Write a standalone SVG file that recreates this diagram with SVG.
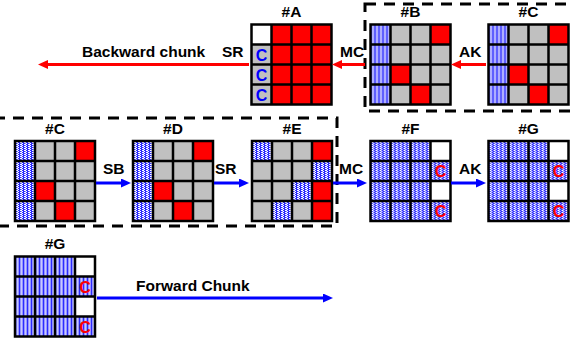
<svg xmlns="http://www.w3.org/2000/svg" xmlns:xlink="http://www.w3.org/1999/xlink" width="570" height="340" viewBox="0 0 570 340">
<style>
text{font-family:"Liberation Sans",Arial,sans-serif;font-weight:bold;font-size:15.5px;fill:#000}
.lbl{text-anchor:middle}
.g{fill:#c0c0c0}.r{fill:#ff0000}.w{fill:#fff}.b{fill:url(#dots)}
.cb{fill:#0000ff;text-anchor:middle;font-size:16px}
.cr{fill:#ff0000;text-anchor:middle;font-size:16px}
.grid{fill:none;stroke:#000;stroke-width:2.5}
.ar{stroke:#ff0000;stroke-width:3;fill:none;marker-end:url(#hr)}
.ab{stroke:#0000ff;stroke-width:3;fill:none;marker-end:url(#hb)}
.dash{fill:none;stroke:#000;stroke-width:3;stroke-dasharray:11 8}
</style>
<defs>
<pattern id="dots" patternUnits="userSpaceOnUse" width="4" height="2">
<rect width="4" height="2" fill="#fff"/>
<rect x="0" y="0" width="1" height="2" fill="#2a2aff"/>
<rect x="1" y="0" width="1" height="1" fill="#2a2aff"/>
<rect x="3" y="1" width="1" height="1" fill="#2a2aff"/>
<rect x="2" y="0" width="1" height="1" fill="#9090ff"/>
</pattern>
<path id="gl" class="grid" d="M0,0H80V80H0Z M20,0V80 M40,0V80 M60,0V80 M0,20H80 M0,40H80 M0,60H80"/>
<marker id="hr" markerUnits="userSpaceOnUse" markerWidth="10" markerHeight="10" refX="2" refY="4.5" orient="auto">
<path d="M0,0L10,4.5L0,9Z" fill="#ff0000"/>
</marker>
<marker id="hb" markerUnits="userSpaceOnUse" markerWidth="10" markerHeight="10" refX="2" refY="4.5" orient="auto">
<path d="M0,0L10,4.5L0,9Z" fill="#0000ff"/>
</marker>
</defs>
<rect width="570" height="340" fill="#fff"/>

<g id="boxes">
<rect class="dash" x="365" y="4" width="220" height="107"/>
<rect class="dash" x="-6" y="118" width="343" height="108"/>
</g>

<g id="A" transform="translate(251.5,24.5)">
<rect class="w" x="0" y="0" width="20" height="20"/><rect class="r" x="20" y="0" width="60" height="80"/>
<rect class="g" x="0" y="20" width="20" height="60"/>
<text class="cb" x="10" y="36">C</text><text class="cb" x="10" y="56">C</text><text class="cb" x="10" y="76">C</text>
<use xlink:href="#gl"/>
<text class="lbl" x="40" y="-8">#A</text>
</g>

<g id="B" transform="translate(370.5,24.5)">
<rect class="g" x="20" y="0" width="60" height="80"/><rect class="b" x="0" y="0" width="20" height="80"/>
<rect class="r" x="60" y="0" width="20" height="20"/><rect class="r" x="20" y="40" width="20" height="20"/><rect class="r" x="40" y="60" width="20" height="20"/>
<use xlink:href="#gl"/>
<text class="lbl" x="40" y="-8">#B</text>
</g>

<g id="C1" transform="translate(488.5,24.5)">
<rect class="g" x="20" y="0" width="60" height="80"/><rect class="b" x="0" y="0" width="20" height="80"/>
<rect class="r" x="60" y="0" width="20" height="20"/><rect class="r" x="20" y="40" width="20" height="20"/><rect class="r" x="40" y="60" width="20" height="20"/>
<use xlink:href="#gl"/>
<text class="lbl" x="40" y="-8">#C</text>
</g>

<g id="C2" transform="translate(15,141)">
<rect class="g" x="20" y="0" width="60" height="80"/><rect class="b" x="0" y="0" width="20" height="80"/>
<rect class="r" x="60" y="0" width="20" height="20"/><rect class="r" x="20" y="40" width="20" height="20"/><rect class="r" x="40" y="60" width="20" height="20"/>
<use xlink:href="#gl"/>
<text class="lbl" x="40" y="-7">#C</text>
</g>

<g id="D" transform="translate(133,141)">
<rect class="g" x="20" y="0" width="60" height="80"/><rect class="b" x="0" y="0" width="20" height="80"/>
<rect class="r" x="60" y="0" width="20" height="20"/><rect class="r" x="20" y="40" width="20" height="20"/><rect class="r" x="40" y="60" width="20" height="20"/>
<use xlink:href="#gl"/>
<text class="lbl" x="40" y="-7">#D</text>
</g>

<g id="E" transform="translate(252,141)">
<rect class="g" x="0" y="0" width="80" height="80"/>
<rect class="b" x="0" y="0" width="20" height="20"/><rect class="r" x="60" y="0" width="20" height="20"/>
<rect class="b" x="60" y="20" width="20" height="20"/>
<rect class="b" x="40" y="40" width="20" height="20"/><rect class="r" x="60" y="40" width="20" height="20"/>
<rect class="b" x="20" y="60" width="20" height="20"/><rect class="r" x="60" y="60" width="20" height="20"/>
<use xlink:href="#gl"/>
<text class="lbl" x="40" y="-7">#E</text>
</g>

<g id="F" transform="translate(370.5,141)">
<rect class="b" x="0" y="0" width="80" height="80"/>
<rect class="w" x="60" y="0" width="20" height="20"/><rect class="w" x="60" y="40" width="20" height="20"/>
<text class="cr" x="70" y="36">C</text><text class="cr" x="70" y="76">C</text>
<use xlink:href="#gl"/>
<text class="lbl" x="40" y="-7">#F</text>
</g>

<g id="G1" transform="translate(488.5,141)">
<rect class="b" x="0" y="0" width="80" height="80"/>
<rect class="w" x="60" y="0" width="20" height="20"/><rect class="w" x="60" y="40" width="20" height="20"/>
<text class="cr" x="70" y="36">C</text><text class="cr" x="70" y="76">C</text>
<use xlink:href="#gl"/>
<text class="lbl" x="40" y="-7">#G</text>
</g>

<g id="G2" transform="translate(15,256.5)">
<rect class="b" x="0" y="0" width="80" height="80"/>
<rect class="w" x="60" y="0" width="20" height="20"/><rect class="w" x="60" y="40" width="20" height="20"/>
<text class="cr" x="70" y="36">C</text><text class="cr" x="70" y="76">C</text>
<use xlink:href="#gl"/>
<text class="lbl" x="40" y="-7.5">#G</text>
</g>

<g id="connectors">
<line class="ar" x1="249" y1="64.5" x2="46" y2="64.5"/>
<line class="ar" x1="365" y1="64.5" x2="340" y2="64.5"/>
<line class="ar" x1="486" y1="64.5" x2="459" y2="64.5"/>
<line class="ab" x1="96" y1="183" x2="123" y2="183"/>
<line class="ab" x1="214" y1="183" x2="241" y2="183"/>
<line class="ab" x1="333" y1="183" x2="359" y2="183"/>
<line class="ab" x1="451" y1="183" x2="478" y2="183"/>
<line class="ab" x1="97" y1="298" x2="325" y2="298"/>
</g>

<g id="labels">
<text x="82" y="56.5">Backward chunk</text>
<text x="222" y="56.5">SR</text>
<text x="340" y="56.5">MC</text>
<text x="459" y="56.5">AK</text>
<text x="103" y="173.5">SB</text>
<text x="215" y="173.5">SR</text>
<text x="339" y="173.5">MC</text>
<text x="459" y="173.5">AK</text>
<text x="136" y="291">Forward Chunk</text>
</g>
</svg>
